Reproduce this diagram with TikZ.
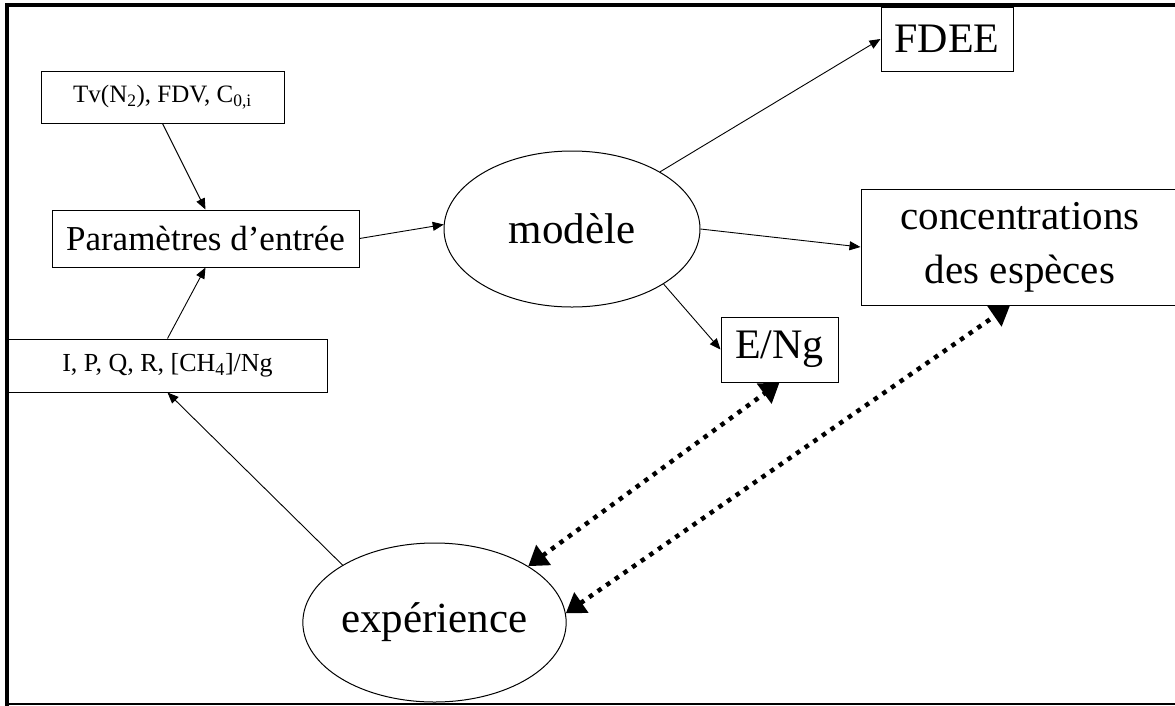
\documentclass[tikz,border=0pt]{standalone}
\usepackage{fontspec}
\setmainfont{Liberation Serif}
\usetikzlibrary{arrows.meta,positioning,shapes.geometric}

\begin{document}
\begin{tikzpicture}[x=1pt,y=-1pt,
  boite/.style={draw, line width=1pt, inner sep=0pt, align=center},
  bulle/.style={draw, ellipse, line width=1pt, inner sep=0pt, font=\fontsize{43}{50}\selectfont},
  fleche/.style={-{Triangle[length=11pt,width=9pt]}, line width=0.9pt},
  lien/.style={{Triangle[length=19pt,width=24pt]}-{Triangle[length=19pt,width=24pt]}, line width=4.5pt, dash pattern=on 4.5pt off 6pt}]
  \useasboundingbox (0,0) rectangle (1175,705);
  \clip (0,0) rectangle (1175,705);

  % Frame
  \draw[line width=4pt] (7,720) -- (7,5) -- (1190,5);
  \draw[line width=2pt] (7,704) -- (1190,704);

  % Input parameters
  \node[boite, minimum width=243pt, minimum height=52pt, font=\fontsize{25}{30}\selectfont] (tv) at (162.5,97) {Tv(N\textsubscript{2}), FDV, C\textsubscript{0,i}};
  \node[boite, minimum width=307pt, minimum height=57pt, font=\fontsize{35}{40}\selectfont] (param) at (205.5,238.5) {Paramètres d’entrée};
  \node[boite, minimum width=319pt, minimum height=53pt, font=\fontsize{26}{30}\selectfont] (ipq) at (167.5,365.5) {I, P, Q, R, [CH\textsubscript{4}]/Ng};

  % Model and outputs
  \node[bulle, minimum width=256pt, minimum height=156pt] (model) at (572,229) {modèle};
  \node[boite, minimum width=132pt, minimum height=64pt, font=\fontsize{42}{50}\selectfont] (fdee) at (947,39) {FDEE};
  \node[boite, minimum width=318pt, minimum height=116pt, font=\fontsize{41}{54}\selectfont] (conc) at (1020,247) {concentrations\\des espèces};
  \node[boite, minimum width=117pt, minimum height=65pt, font=\fontsize{42}{50}\selectfont] (eng) at (779.5,349.5) {E/Ng};

  % Experiment
  \node[bulle, minimum width=256pt, minimum height=159pt] (exper) at (434.5,622.5) {expérience};

  % Arrows
  \draw[fleche] (tv.south) -- (param.north);
  \draw[fleche] (ipq.north) -- (param.south);
  \draw[fleche] (param.east) -- (model.178);
  \draw[fleche] (model.33) -- (fdee.west);
  \draw[fleche] (model.east) -- (conc.west);
  \draw[fleche] (model.-31) -- (eng.west);
  \draw[fleche] (exper.148) -- (ipq.south);

  % Comparison
  \draw[lien] (exper.31) -- (eng.south);
  \draw[lien] (exper.4) -- ([xshift=-10pt]conc.south);
\end{tikzpicture}
\end{document}
